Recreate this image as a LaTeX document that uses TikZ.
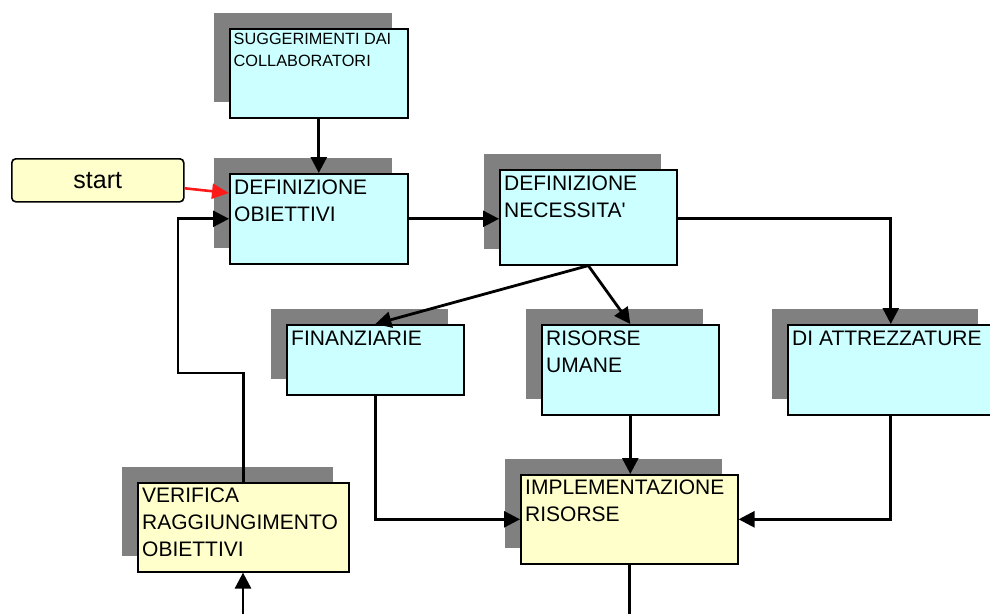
\documentclass[tikz,border=0pt]{standalone}
\usepackage{fontspec}
\setmainfont{Liberation Sans}
\usetikzlibrary{arrows.meta,shadows}

\definecolor{boxcyan}{HTML}{CCFFFF}
\definecolor{boxyellow}{HTML}{FFFFCC}
\definecolor{shadegray}{HTML}{808080}
\definecolor{startred}{HTML}{FF1A1A}

% top-aligned, ragged text block whose baseline is its first line
\newcommand{\boxtext}[1]{\parbox[t]{240pt}{\raggedright #1}}

\begin{document}
\begin{tikzpicture}[x=1pt,y=-1pt,
  card/.style={rectangle, draw=black, line width=1.6pt, anchor=north west,
    inner sep=0pt,
    drop shadow={shadow xshift=-15.5pt, shadow yshift=15.5pt,
      fill=shadegray, draw=none, opacity=1}},
  cyancard/.style={card, fill=boxcyan},
  yellowcard/.style={card, fill=boxyellow},
  lbl/.style={anchor=base west, inner sep=0pt,
    font=\fontsize{21}{27}\selectfont},
  smalllbl/.style={lbl, font=\fontsize{16.3}{21.7}\selectfont},
  conn/.style={line width=2.8pt, -{Triangle[length=16pt,width=16pt]}},
  plain/.style={line width=2.8pt},
  redconn/.style={draw=startred, line width=2.6pt,
    -{Triangle[length=17pt,width=15pt]}}
]
\clip (0,0) rectangle (990,614);
\fill[white] (0,0) rectangle (990,614);

% boxes
\node[cyancard, minimum width=178pt, minimum height=89pt] (SU) at (229,28) {};
\node[cyancard, minimum width=178pt, minimum height=90pt] (DO) at (229,173) {};
\node[cyancard, minimum width=177pt, minimum height=95pt] (DN) at (499,169) {};
\node[cyancard, minimum width=177pt, minimum height=70pt] (FI) at (286,324) {};
\node[cyancard, minimum width=177pt, minimum height=90pt] (RU) at (541,324) {};
\node[cyancard, minimum width=206pt, minimum height=90pt] (DA) at (787,324) {};
\node[yellowcard, minimum width=217pt, minimum height=89pt] (IM) at (520,474) {};
\node[yellowcard, minimum width=211pt, minimum height=89pt] (VE) at (137,482) {};
\node[rectangle, rounded corners=4pt, draw=black, line width=1.6pt,
  fill=boxyellow, anchor=north west, minimum width=172pt, minimum height=43pt,
  inner sep=0pt, font=\fontsize{25}{30}\selectfont] (ST) at (11,158) {start};

% box texts
\node[smalllbl] (SUt) at ([xshift=4.5pt,yshift=-16.3pt]SU.north west)
  {\boxtext{SUGGERIMENTI DAI\\COLLABORATORI}};
\node[lbl] (DOt) at ([xshift=5pt,yshift=-21.5pt]DO.north west)
  {\boxtext{DEFINIZIONE\\OBIETTIVI}};
\node[lbl] (DNt) at ([xshift=5pt,yshift=-21.5pt]DN.north west)
  {\boxtext{DEFINIZIONE\\NECESSITA\textquotesingle}};
\node[lbl] (FIt) at ([xshift=5pt,yshift=-21.5pt]FI.north west)
  {\boxtext{FINANZIARIE}};
\node[lbl] (RUt) at ([xshift=5pt,yshift=-21.5pt]RU.north west)
  {\boxtext{RISORSE\\UMANE}};
\node[lbl] (DAt) at ([xshift=5pt,yshift=-21.5pt]DA.north west)
  {\boxtext{DI ATTREZZATURE}};
\node[lbl] (IMt) at ([xshift=5pt,yshift=-20.5pt]IM.north west)
  {\boxtext{IMPLEMENTAZIONE\\RISORSE}};
\node[lbl] (VEt) at ([xshift=5pt,yshift=-20.7pt]VE.north west)
  {\boxtext{VERIFICA\\RAGGIUNGIMENTO\\OBIETTIVI}};

% free ends and bends
\coordinate (loop) at (178,373);
\coordinate (outIM) at (630,614);
\coordinate (inVE) at (243,614);

% connectors
\draw[conn] (SU.south) -- (DO.north);
\draw[redconn] ([yshift=-8pt]ST.east) -- ([yshift=-20pt]DO.north west);
\draw[conn] (DO.east) -- (DO.east -| DN.west);
\draw[conn] (DO.east -| DN.east) -| (DA.north);
\draw[conn] (DN.south) -- (FI.north);
\draw[conn] (DN.south) -- (RU.north);
\draw[conn] (FI.south) |- (IM.west);
\draw[conn] (RU.south) -- (RU.south |- IM.north);
\draw[conn] (DA.south) |- (IM.east);
\draw[plain] (IM.south) -- (IM.south |- outIM);
\draw[conn] (inVE) -- (inVE |- VE.south);
\draw[conn] (VE.north) |- (loop) |- (DO.west);
\end{tikzpicture}
\end{document}
